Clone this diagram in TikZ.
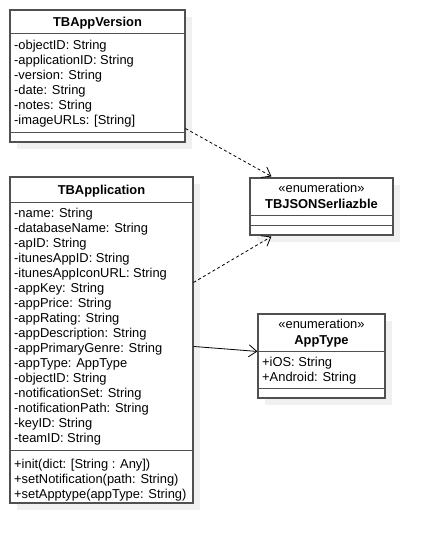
\documentclass[tikz,border=0pt]{standalone}
\usepackage{fontspec}
\setmainfont{Liberation Sans}
\usetikzlibrary{arrows.meta,calc,shadows}
\definecolor{edge}{HTML}{505050}
\definecolor{shade}{HTML}{F0F0F0}
\begin{document}
\begin{tikzpicture}[x=1pt,y=-1pt,
  box/.style={draw=edge, fill=white, line width=1.1pt, inner sep=0pt,
    drop shadow={shadow xshift=7pt, shadow yshift=-7pt, fill=shade, opacity=1}},
  sep/.style={draw=edge, line width=1.1pt},
  attr/.style={anchor=base west, inner sep=0pt, font=\fontsize{12.9}{15}\selectfont},
  ttl/.style={anchor=base, inner sep=0pt, font=\fontsize{12.9}{15}\selectfont\bfseries},
  stereo/.style={anchor=base, inner sep=0pt, font=\fontsize{12.9}{15}\selectfont},
  dep/.style={draw=black, line width=0.8pt, dash pattern=on 3pt off 2.5pt, -{Straight Barb[length=8pt,width=12pt]}},
  assoc/.style={draw=black, line width=0.8pt, -{Straight Barb[length=8pt,width=12pt]}}]
\useasboundingbox (0,0) rectangle (434,543);

% TBAppVersion
\node[box, minimum width=175pt, minimum height=132pt] (ver) at (97.5,76) {};
\draw[sep] ($(ver.north west)+(0,24)$) -- ($(ver.north east)+(0,24)$);
\draw[sep] ($(ver.north west)+(0,123)$) -- ($(ver.north east)+(0,123)$);
\node[ttl] (vert) at (97.5,27) {TBAppVersion};
\foreach \t [count=\i] in {-objectID: String,-applicationID: String,-version: String,-date: String,-notes: String,{-imageURLs: [String]}}
  \node[attr] (va\i) at (14,{49.5+15*(\i-1)}) {\t};

% TBApplication
\node[box, minimum width=183pt, minimum height=326pt] (app) at (101.5,340) {};
\draw[sep] ($(app.north west)+(0,26)$) -- ($(app.north east)+(0,26)$);
\draw[sep] ($(app.north west)+(0,274)$) -- ($(app.north east)+(0,274)$);
\node[ttl] (appt) at (101.5,194.5) {TBApplication};
\foreach \t [count=\i] in {-name: String,-databaseName: String,-apID: String,-itunesAppID: String,-itunesAppIconURL: String,-appKey: String,-appPrice: String,-appRating: String,-appDescription: String,-appPrimaryGenre: String,-appType: AppType,-objectID: String,-notificationSet: String,-notificationPath: String,-keyID: String,-teamID: String}
  \node[attr] (aa\i) at (14,{217.5+15*(\i-1)}) {\t};
\foreach \t [count=\i] in {{+init(dict: [String : Any])},{+setNotification(path: String)},{+setApptype(appType: String)}}
  \node[attr] (am\i) at (14,{468.5+15*(\i-1)}) {\t};

% TBJSONSerliazble
\node[box, minimum width=143pt, minimum height=57pt] (json) at (321.5,206.5) {};
\draw[sep] ($(json.north west)+(0,38)$) -- ($(json.north east)+(0,38)$);
\draw[sep] ($(json.north west)+(0,48)$) -- ($(json.north east)+(0,48)$);
\node[stereo] (jsons) at (321.5,192.5) {«enumeration»};
\node[ttl] (jsont) at (321.5,208.5) {TBJSONSerliazble};

% AppType
\node[box, minimum width=127pt, minimum height=84pt] (typ) at (321.5,356) {};
\draw[sep] ($(typ.north west)+(0,38)$) -- ($(typ.north east)+(0,38)$);
\draw[sep] ($(typ.north west)+(0,75)$) -- ($(typ.north east)+(0,75)$);
\node[stereo] (typs) at (321.5,328) {«enumeration»};
\node[ttl] (typt) at (321.5,344.5) {AppType};
\node[attr] (ta1) at (262,366.5) {+iOS: String};
\node[attr] (ta2) at (262,381.5) {+Android: String};

% connectors
\draw[dep] ($(ver.south east)+(0,-14)$) -- ($(json.north west)+(22,-1)$);
\draw[dep] ($(app.north east)+(0,106)$) -- ($(json.south west)+(22,1)$);
\draw[assoc] ($(app.north east)+(0,170)$) -- ($(typ.north west)+(0,38)$);
\end{tikzpicture}
\end{document}
